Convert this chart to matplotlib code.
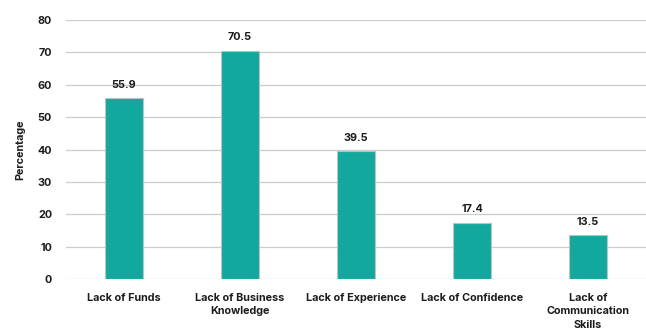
import matplotlib.pyplot as plt
import numpy as np

plt.rcParams['font.family'] = ['Inter', 'DejaVu Sans']

categories = ['Lack of Funds', 'Lack of Business\nKnowledge', 'Lack of Experience',
              'Lack of Confidence', 'Lack of\nCommunication\nSkills']
values = [55.9, 70.5, 39.5, 17.4, 13.5]
yticks = [0, 10, 20, 30, 40, 50, 60, 70, 80]

bar_color = '#13a89e'
text_color = '#1c1c1c'

fig = plt.figure(figsize=(6.46, 3.29), dpi=100)
ax = fig.add_axes([0.102, 0.152, 0.898, 0.787])

x = np.arange(len(categories))
bars = ax.bar(x, values, width=0.33, color=bar_color, edgecolor='#b8c4c2', linewidth=0.8, zorder=3)

for xi, v in zip(x, values):
    ax.text(xi, v + 2.6, f'{v:.1f}', ha='center', va='bottom', fontsize=7.8,
            fontweight='bold', color=text_color)

ax.set_xlim(-0.5, len(categories) - 0.5)
ax.set_ylim(0, 80)
ax.set_yticks(yticks)
ax.set_xticks(x)
ax.set_xticklabels(categories, fontsize=7.8, fontweight='bold', color=text_color, linespacing=1.45)
ax.tick_params(axis='y', labelsize=7.8, labelcolor=text_color, length=0, pad=10)
ax.tick_params(axis='x', length=0, pad=10)
for lbl in ax.get_yticklabels():
    lbl.set_fontweight('bold')

ax.yaxis.grid(True, color='#cccccc', linewidth=0.9, zorder=0)
for s in ax.spines.values():
    s.set_visible(False)

ax.set_ylabel('Percentage', fontsize=7.8, fontweight='bold', color=text_color, labelpad=9)

fig.savefig('out.png', dpi=100)
